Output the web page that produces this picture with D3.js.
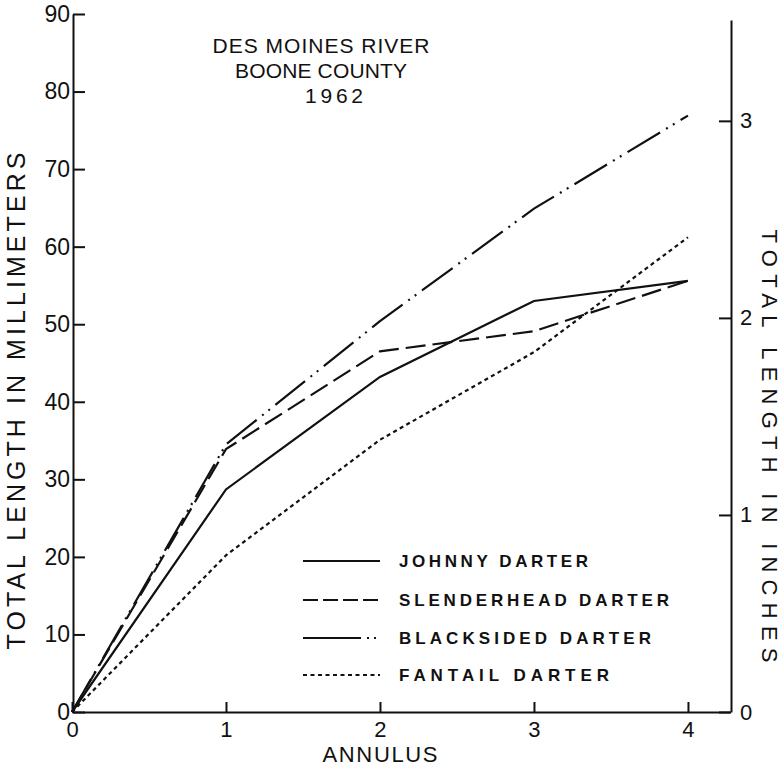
<!DOCTYPE html>
<html>
<head>
<meta charset="utf-8">
<script src="https://cdn.jsdelivr.net/npm/d3@7"></script>
<style>
  body { margin: 0; background: #fff; }
  svg { display: block; }
  text { font-family: "Liberation Sans", Arial, sans-serif; fill: #111; }
</style>
</head>
<body>
<svg id="chart" width="782" height="769"></svg>
<script>
const annulus = [0, 1, 2, 3, 4];
const johnny = [0, 28.7, 43.2, 53, 55.6];
const slenderhead = [0, 33.9, 46.5, 49.1, 55.6];
const blacksided = [0, 34.5, 50.4, 64.9, 76.9];
const fantail = [0, 20.2, 35.1, 46.4, 61.2];
const seriesNames = ["JOHNNY DARTER", "SLENDERHEAD DARTER", "BLACKSIDED DARTER", "FANTAIL DARTER"];
const mmTicks = [0, 10, 20, 30, 40, 50, 60, 70, 80, 90];
const inchTicks = [0, 1, 2, 3];
const titleLines = ["DES MOINES RIVER", "BOONE COUNTY", "1962"];

const series = [johnny, slenderhead, blacksided, fantail];
const dashes = [null, "20,7", "38,7,2,6,2,7", "4,3.5"];
const legendDashes = [null, "15,5", "58,6,2,5,2,40", "4,3.5"];

const svg = d3.select("#chart");
const fmt = d3.format("d");

const x = d3.scaleLinear().domain([0, 4.273]).range([72, 730]);
const y = d3.scaleLinear().domain([0, 90]).range([712, 14]);
const yIn = d3.scaleLinear().domain([0, 89.2 / 25.4]).range([712, 20]);

// left axis, ticks pointing inward
const gl = svg.append("g")
  .attr("transform", "translate(73,0)")
  .call(d3.axisLeft(y).tickValues(mmTicks).tickFormat(fmt).tickSizeInner(-12).tickSizeOuter(0).tickPadding(3));
gl.selectAll("text").style("font-size", "23px");

// bottom axis
const gb = svg.append("g")
  .attr("transform", "translate(0,712)")
  .call(d3.axisBottom(x).tickValues(annulus).tickFormat(fmt).tickSizeInner(-10).tickSizeOuter(0).tickPadding(9));
gb.selectAll("text").style("font-size", "22px");

// right axis in inches
const gr = svg.append("g")
  .attr("transform", "translate(731,0)")
  .call(d3.axisRight(yIn).tickValues(inchTicks).tickFormat(fmt).tickSizeInner(-12).tickSizeOuter(0).tickPadding(9));
gr.selectAll("text").style("font-size", "22px");

svg.selectAll(".domain, .tick line").attr("stroke", "#111").attr("stroke-width", 2);

// axis titles
svg.append("text")
  .attr("transform", "translate(25,401) rotate(-90)")
  .attr("text-anchor", "middle")
  .attr("textLength", 497).attr("lengthAdjust", "spacing")
  .style("font-size", "25px")
  .text("TOTAL LENGTH IN MILLIMETERS");

svg.append("text")
  .attr("transform", "translate(762,446) rotate(90)")
  .attr("text-anchor", "middle")
  .attr("textLength", 433).attr("lengthAdjust", "spacing")
  .style("font-size", "22px")
  .text("TOTAL LENGTH IN INCHES");

svg.append("text")
  .attr("x", 380).attr("y", 762)
  .attr("text-anchor", "middle")
  .attr("textLength", 115).attr("lengthAdjust", "spacing")
  .style("font-size", "22px")
  .text("ANNULUS");

// title
const titleX = [321, 321, 334];
const titleW = [217, 172, 58];
svg.selectAll(".title")
  .data(titleLines)
  .enter()
  .append("text")
  .attr("class", "title")
  .attr("x", (d, i) => titleX[i])
  .attr("y", (d, i) => 53 + i * 25)
  .attr("text-anchor", "middle")
  .attr("textLength", (d, i) => titleW[i]).attr("lengthAdjust", "spacing")
  .style("font-size", "21px")
  .text(d => d);

// lines
const line = d3.line()
  .x((d, i) => x(annulus[i]))
  .y(d => y(d));

svg.selectAll(".series")
  .data(series)
  .enter()
  .append("path")
  .attr("class", "series")
  .attr("d", d => line(d))
  .attr("fill", "none")
  .attr("stroke", "#111")
  .attr("stroke-width", 2.2)
  .attr("stroke-dasharray", (d, i) => dashes[i]);

// legend
const legendY = [561, 600, 638, 675];
const legendW = [189, 270, 252, 210];
const lg = svg.selectAll(".legend")
  .data(seriesNames)
  .enter()
  .append("g")
  .attr("class", "legend")
  .attr("transform", (d, i) => `translate(0,${legendY[i]})`);

lg.append("line")
  .attr("x1", 303).attr("x2", 380)
  .attr("stroke", "#111")
  .attr("stroke-width", 2)
  .attr("stroke-dasharray", (d, i) => legendDashes[i]);

lg.append("text")
  .attr("x", 399).attr("y", 6)
  .attr("textLength", (d, i) => legendW[i]).attr("lengthAdjust", "spacing")
  .style("font-size", "17px")
  .style("font-weight", "bold")
  .text(d => d);
</script>
</body>
</html>
